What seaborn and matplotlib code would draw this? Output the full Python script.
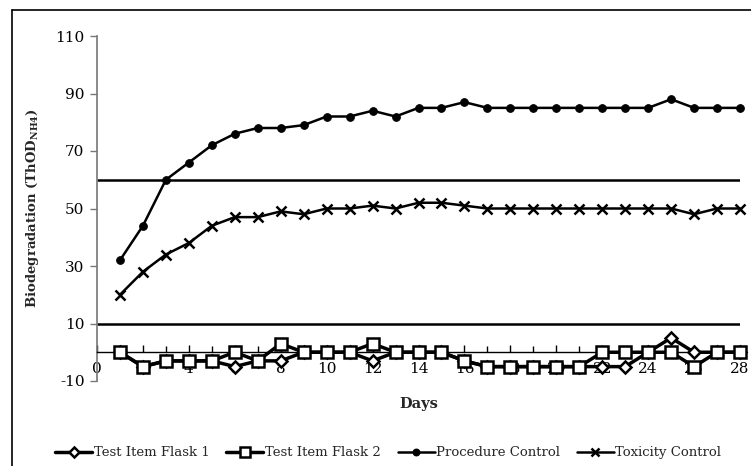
import matplotlib
matplotlib.use("Agg")
import matplotlib.pyplot as plt
from matplotlib.lines import Line2D
from matplotlib.ticker import MultipleLocator
import pandas as pd
import seaborn as sns

sns.set_theme(style="white")
plt.rcParams["font.family"] = ["DejaVu Serif"]
plt.rcParams["mathtext.fontset"] = "dejavuserif"
plt.rcParams["axes.unicode_minus"] = False

days = list(range(1, 29))
flask1 = [0, -5, -3, -3, -3, -5, -3, -3, 0, 0, 0, -3, 0, 0, 0, -3,
          -5, -5, -5, -5, -5, -5, -5, 0, 5, 0, 0, 0]
flask2 = [0, -5, -3, -3, -3, 0, -3, 3, 0, 0, 0, 3, 0, 0, 0, -3,
          -5, -5, -5, -5, -5, 0, 0, 0, 0, -5, 0, 0]
procedure = [32, 44, 60, 66, 72, 76, 78, 78, 79, 82, 82, 84, 82, 85, 85, 87,
             85, 85, 85, 85, 85, 85, 85, 85, 88, 85, 85, 85]
toxicity = [20, 28, 34, 38, 44, 47, 47, 49, 48, 50, 50, 51, 50, 52, 52, 51,
            50, 50, 50, 50, 50, 50, 50, 50, 50, 48, 50, 50]
pass_levels = [60, 10]
series_names = ["Test Item Flask 1", "Test Item Flask 2",
                "Procedure Control", "Toxicity Control"]

df = pd.DataFrame({"Day": days, series_names[0]: flask1,
                   series_names[1]: flask2, series_names[2]: procedure,
                   series_names[3]: toxicity})

fig = plt.figure(figsize=(7.51, 4.66), dpi=100)
ax = fig.add_axes([97 / 751, 1 - 381 / 466, (740 - 97) / 751, (381 - 36) / 466])

# reference levels
ax.hlines(pass_levels, 0, 28, colors="black", linewidth=1.8, zorder=1)

styles = {
    series_names[0]: dict(marker="D", markersize=6.5, markerfacecolor="white",
                          markeredgecolor="black", markeredgewidth=1.8,
                          linewidth=2.5, zorder=3),
    series_names[1]: dict(marker="s", markersize=8, markerfacecolor="white",
                          markeredgecolor="black", markeredgewidth=1.8,
                          linewidth=2.5, zorder=4),
    series_names[2]: dict(marker="o", markersize=5.5, markerfacecolor="black",
                          markeredgecolor="black", linewidth=1.8, zorder=3),
    series_names[3]: dict(marker="x", markersize=6.5, markeredgewidth=1.8,
                          markeredgecolor="black", linewidth=1.8, zorder=3),
}

for name in series_names:
    sns.lineplot(data=df, x="Day", y=name, color="black", ax=ax,
                 legend=False, clip_on=False, **styles[name])

ax.set_xlim(0, 28)
ax.set_ylim(-10, 110)
ax.set_yticks([-10, 10, 30, 50, 70, 90, 110])
ax.set_xticks(range(0, 29, 2))
ax.xaxis.set_minor_locator(MultipleLocator(1))

for s in ["top", "right"]:
    ax.spines[s].set_visible(False)
ax.spines["bottom"].set_position(("data", 0))
ax.spines["bottom"].set_color("black")
ax.spines["bottom"].set_linewidth(1.0)
ax.spines["left"].set_color("#777777")
ax.spines["left"].set_linewidth(1.2)

ax.tick_params(axis="x", which="both", direction="in", colors="black",
               labelsize=11, pad=7, bottom=True)
ax.tick_params(axis="x", which="major", length=5, width=1)
ax.tick_params(axis="x", which="minor", length=4, width=1)
ax.tick_params(axis="y", which="major", direction="out", length=5, width=1,
               color="#777777", labelcolor="black", labelsize=11, pad=4, left=True)

ax.set_xlabel("Days", fontsize=10.5, fontweight="bold")
ax.xaxis.set_label_coords(0.5, -0.045)
ax.set_ylabel(r"Biodegradation (ThOD$_{\mathbf{NH4}}$)", fontsize=9.5,
              fontweight="bold", labelpad=10)

handles = [Line2D([], [], color="black", **{k: v for k, v in styles[n].items() if k != "zorder"})
           for n in series_names]
fig.legend(handles, series_names, loc="center", bbox_to_anchor=(0.517, 0.028),
           ncol=4, frameon=False, fontsize=9.5, handlelength=2.8,
           handletextpad=0.1, columnspacing=1.3, markerscale=0.85)

# outer chart frame
fig.add_artist(Line2D([12 / 751, 12 / 751], [0, 1 - 10 / 466], color="black",
                      linewidth=1.2, transform=fig.transFigure))
fig.add_artist(Line2D([12 / 751, 1], [1 - 10 / 466, 1 - 10 / 466], color="black",
                      linewidth=1.2, transform=fig.transFigure))

fig.savefig("out.png", dpi=100)
